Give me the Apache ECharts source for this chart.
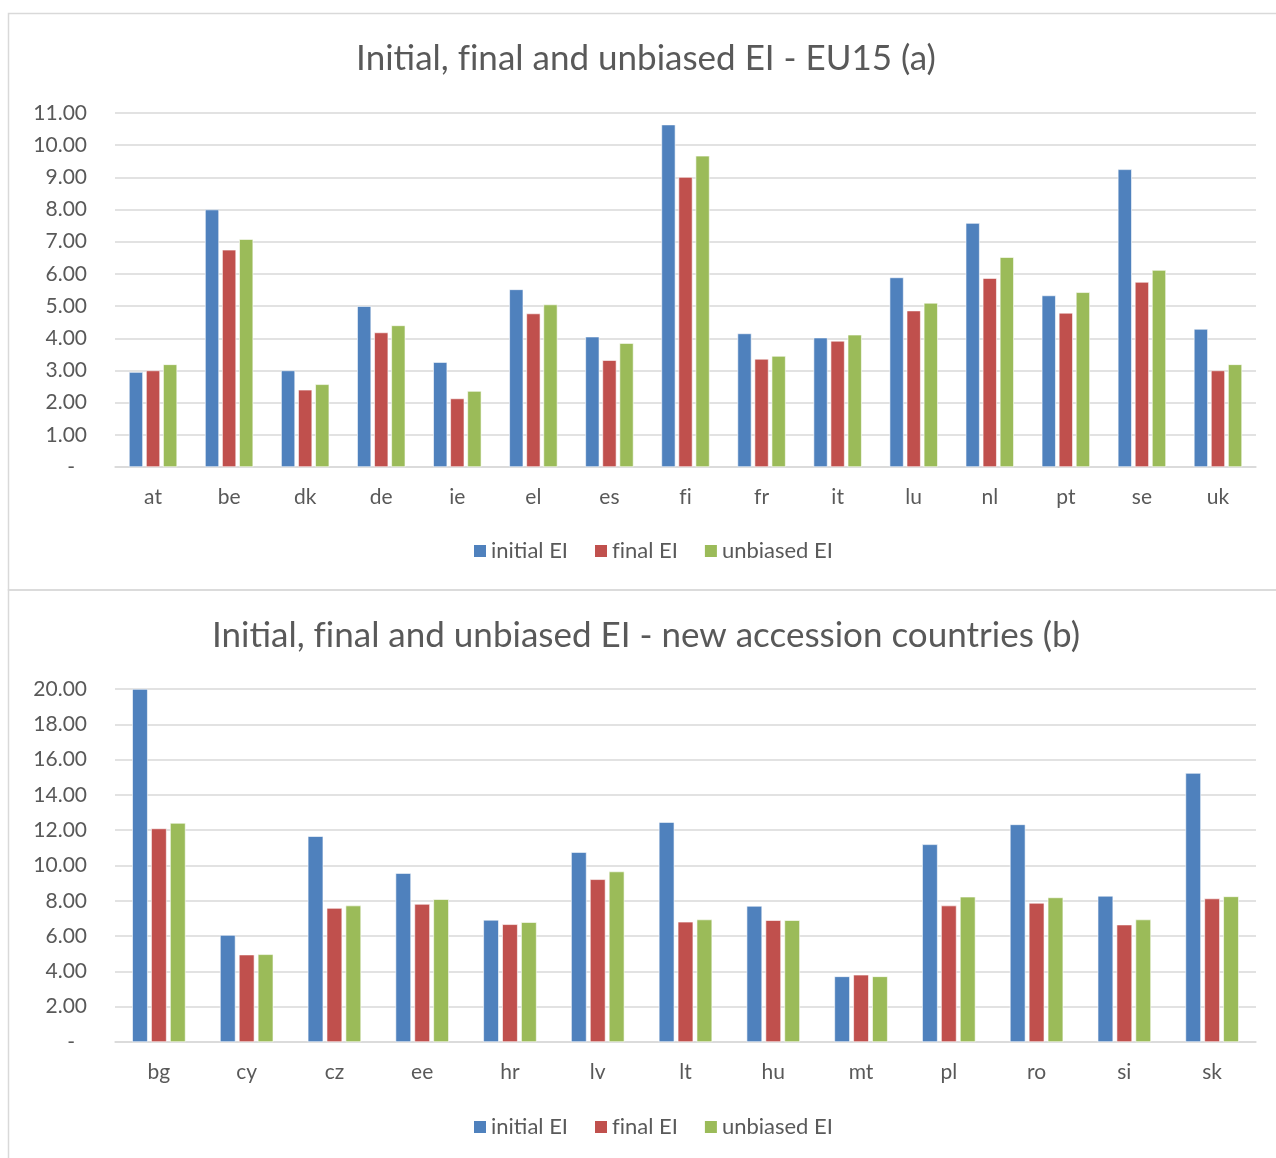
<!DOCTYPE html>
<html>
<head>
<meta charset="utf-8">
<script src="https://cdn.jsdelivr.net/npm/echarts@6/dist/echarts.min.js"></script>
<style>
html,body{margin:0;padding:0;background:#fff;}
#chart{width:1276px;height:1158px;}
</style>
</head>
<body>
<div id="chart"></div>
<script>
// Panel (a): EU15
const catsA = ['at','be','dk','de','ie','el','es','fi','fr','it','lu','nl','pt','se','uk'];
const initialA = [2.95, 8.00, 3.00, 5.00, 3.26, 5.52, 4.05, 10.64, 4.15, 4.02, 5.89, 7.58, 5.33, 9.25, 4.29];
const finalA   = [3.00, 6.75, 2.40, 4.18, 2.13, 4.77, 3.32, 9.01, 3.36, 3.92, 4.86, 5.87, 4.79, 5.75, 3.00];
const unbiasA  = [3.19, 7.08, 2.57, 4.40, 2.36, 5.05, 3.85, 9.67, 3.45, 4.11, 5.10, 6.52, 5.43, 6.12, 3.19];

// Panel (b): new accession countries
const catsB = ['bg','cy','cz','ee','hr','lv','lt','hu','mt','pl','ro','si','sk'];
const initialB = [20.00, 6.06, 11.66, 9.57, 6.92, 10.76, 12.46, 7.71, 3.72, 11.20, 12.33, 8.28, 15.24];
const finalB   = [12.10, 4.95, 7.59, 7.82, 6.67, 9.22, 6.81, 6.90, 3.81, 7.73, 7.88, 6.65, 8.13];
const unbiasB  = [12.41, 4.97, 7.73, 8.09, 6.79, 9.66, 6.94, 6.90, 3.72, 8.23, 8.19, 6.94, 8.25];

const seriesNames = ['initial EI', 'final EI', 'unbiased EI'];
const titleA = 'Initial, final and unbiased EI - EU15 (a)';
const titleB = 'Initial, final and unbiased EI - new accession countries (b)';

const colors = ['#4f81bd', '#c0504d', '#9bbb59'];
const FONT = 'Lato';
const TXT = '#595959';
const GRID = '#d9d9d9';

// break the "fi" ligature of the font so glyphs appear as in the reference
const noLig = s => String(s).replace(/fi/g, 'f\u200Ci');

const chart = echarts.init(document.getElementById('chart'), null, {renderer: 'canvas'});

function yAxis(gi, max, interval) {
  return {
    type: 'value', gridIndex: gi, min: 0, max: max, interval: interval,
    axisLine: {show: false}, axisTick: {show: false},
    splitLine: {lineStyle: {color: GRID, width: 1.5}},
    axisLabel: {
      color: TXT, fontFamily: FONT, fontSize: 21, margin: 28,
      formatter: v => v === 0 ? '{d|-}' : v.toFixed(2),
      rich: {d: {color: TXT, fontFamily: FONT, fontSize: 21, padding: [0, 12, 0, 0]}}
    }
  };
}
function xAxis(gi, cats) {
  return {
    type: 'category', gridIndex: gi, data: cats,
    axisLine: {lineStyle: {color: GRID, width: 1.5}}, axisTick: {show: false},
    axisLabel: {color: TXT, fontFamily: FONT, fontSize: 21, margin: 20, formatter: noLig}
  };
}
function bars(gi, vals, bw) {
  return vals.map((v, i) => ({
    type: 'bar', name: seriesNames[i], xAxisIndex: gi, yAxisIndex: gi,
    data: v, barWidth: bw, barGap: '22%',
    itemStyle: {color: colors[i], borderColor: '#ffffff', borderWidth: 0.6},
    emphasis: {disabled: true}
  }));
}
function legend(top) {
  return {
    top: top, left: 472, padding: 0, icon: 'rect', itemWidth: 14, itemHeight: 14, itemGap: 25,
    data: seriesNames,
    formatter: noLig,
    textStyle: {color: TXT, fontFamily: FONT, fontSize: 22, padding: [0, 0, 0, -1]},
    selectedMode: false
  };
}

chart.setOption({
  animation: false,
  backgroundColor: '#ffffff',
  color: colors,
  grid: [
    {left: 115, top: 113, width: 1141, height: 354},
    {left: 115, top: 689, width: 1141, height: 353}
  ],
  xAxis: [xAxis(0, catsA), xAxis(1, catsB)],
  yAxis: [yAxis(0, 11, 1), yAxis(1, 20, 2)],
  legend: [legend(540), legend(1116)],
  series: [].concat(bars(0, [initialA, finalA, unbiasA], 14), bars(1, [initialB, finalB, unbiasB], 15.5)),
  graphic: [
    {type: 'rect', shape: {x: 8.5, y: 13.5, width: 1300, height: 576.5}, style: {fill: 'none', stroke: GRID, lineWidth: 1.5}, silent: true, z: -10},
    {type: 'rect', shape: {x: 8.5, y: 590, width: 1300, height: 600}, style: {fill: 'none', stroke: GRID, lineWidth: 1.5}, silent: true, z: -10},
    {type: 'text', x: 646, y: 59, style: {text: noLig(titleA), fill: TXT, font: '35px ' + FONT, textAlign: 'center', textVerticalAlign: 'middle'}},
    {type: 'text', x: 646, y: 636, style: {text: noLig(titleB), fill: TXT, font: '35px ' + FONT, textAlign: 'center', textVerticalAlign: 'middle'}}
  ]
});
</script>
</body>
</html>
